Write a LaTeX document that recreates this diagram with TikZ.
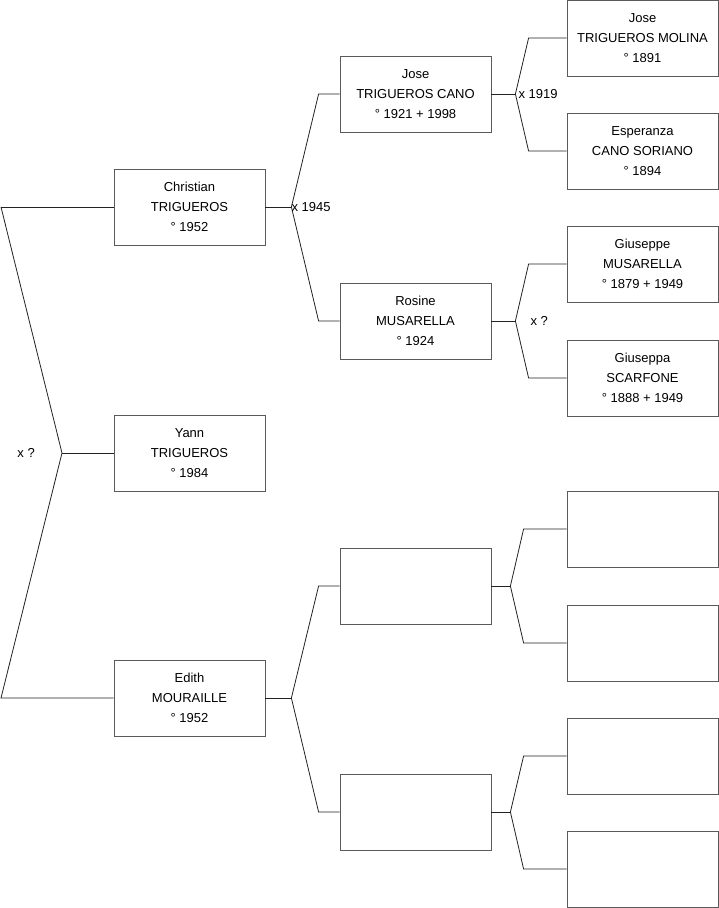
\documentclass[tikz,border=0pt]{standalone}
\usepackage{fontspec}
\setmainfont{Liberation Sans}
\usetikzlibrary{positioning}
\definecolor{boxline}{HTML}{5A5A5A}
\definecolor{linkline}{HTML}{222222}

\begin{document}
\begin{tikzpicture}[
      x=1pt,y=-1pt,
      person/.style={draw=boxline,line width=0.8pt,fill=white,inner sep=0pt,
                   minimum width=151pt,minimum height=76pt,align=center,
                   font=\fontsize{13}{20}\selectfont},
      link/.style={draw=linkline,line width=0.8pt},
      union/.style={font=\fontsize{13}{14}\selectfont,inner sep=0pt}
    ]
    \useasboundingbox (0,0) rectangle (719,908);
    % generation 1
    \node[person] (chris) at (189.5,207) {Christian\\TRIGUEROS\\° 1952};
    \node[person] (yann) at (189.5,453) {Yann\\TRIGUEROS\\° 1984};
    \node[person] (edith) at (189.5,698) {Edith\\MOURAILLE\\° 1952};
    % generation 2
    \node[person] (jose) at (415.5,94) {Jose\\TRIGUEROS CANO\\° 1921 + 1998};
    \node[person] (rosine) at (415.5,321) {Rosine\\MUSARELLA\\° 1924};
    \node[person] (edfa) at (415.5,586) {};
    \node[person] (edmo) at (415.5,812) {};
    % generation 3
    \node[person] (josef) at (642.5,38) {Jose\\TRIGUEROS MOLINA\\° 1891};
    \node[person] (espe) at (642.5,151) {Esperanza\\CANO SORIANO\\° 1894};
    \node[person] (giuse) at (642.5,264) {Giuseppe\\MUSARELLA\\° 1879 + 1949};
    \node[person] (giusa) at (642.5,378) {Giuseppa\\SCARFONE\\° 1888 + 1949};
    \node[person] (e1) at (642.5,529) {};
    \node[person] (e2) at (642.5,643) {};
    \node[person] (e3) at (642.5,756) {};
    \node[person] (e4) at (642.5,869) {};
    % parents of Yann
    \coordinate (ptop) at (1,207);
    \coordinate (pmid) at (62,453);
    \coordinate (pbot) at (1,698);
    \draw[link] (ptop) -- (chris.west);
    \draw[link] (ptop) -- (pmid) -- (pbot) -- (edith.west);
    \draw[link] (pmid) -- (yann.west);
    \node[union,left=27pt of pmid] (u0) {x ?};
    % parents of Christian
    \coordinate[right=26pt of chris.east] (jc);
    \draw[link] (chris) -- (jc);
    \draw[link] (jc) -- ([xshift=-21pt]jose.west) -- (jose.west);
    \draw[link] (jc) -- ([xshift=-21pt]rosine.west) -- (rosine.west);
    \node[union,anchor=west] (u1) at (jc) {x 1945};
    % parents of Edith
    \coordinate[right=26pt of edith.east] (je);
    \draw[link] (edith) -- (je);
    \draw[link] (je) -- ([xshift=-21pt]edfa.west) -- (edfa.west);
    \draw[link] (je) -- ([xshift=-21pt]edmo.west) -- (edmo.west);
    % parents of Jose
    \coordinate[right=24pt of jose.east] (jj);
    \draw[link] (jose) -- (jj);
    \draw[link] (jj) -- ([xshift=-38pt]josef.west) -- (josef.west);
    \draw[link] (jj) -- ([xshift=-38pt]espe.west) -- (espe.west);
    \node[union,anchor=west,xshift=3pt] (u2) at (jj) {x 1919};
    % parents of Rosine
    \coordinate[right=24pt of rosine.east] (jr);
    \draw[link] (rosine) -- (jr);
    \draw[link] (jr) -- ([xshift=-38pt]giuse.west) -- (giuse.west);
    \draw[link] (jr) -- ([xshift=-38pt]giusa.west) -- (giusa.west);
    \node[union,anchor=west,xshift=15pt] (u3) at (jr) {x ?};
    % unknown lines
    \coordinate[right=19pt of edfa.east] (jf);
    \draw[link] (edfa) -- (jf);
    \draw[link] (jf) -- ([xshift=-43pt]e1.west) -- (e1.west);
    \draw[link] (jf) -- ([xshift=-43pt]e2.west) -- (e2.west);
    \coordinate[right=19pt of edmo.east] (jm);
    \draw[link] (edmo) -- (jm);
    \draw[link] (jm) -- ([xshift=-43pt]e3.west) -- (e3.west);
    \draw[link] (jm) -- ([xshift=-43pt]e4.west) -- (e4.west);
  \end{tikzpicture}
\end{document}
